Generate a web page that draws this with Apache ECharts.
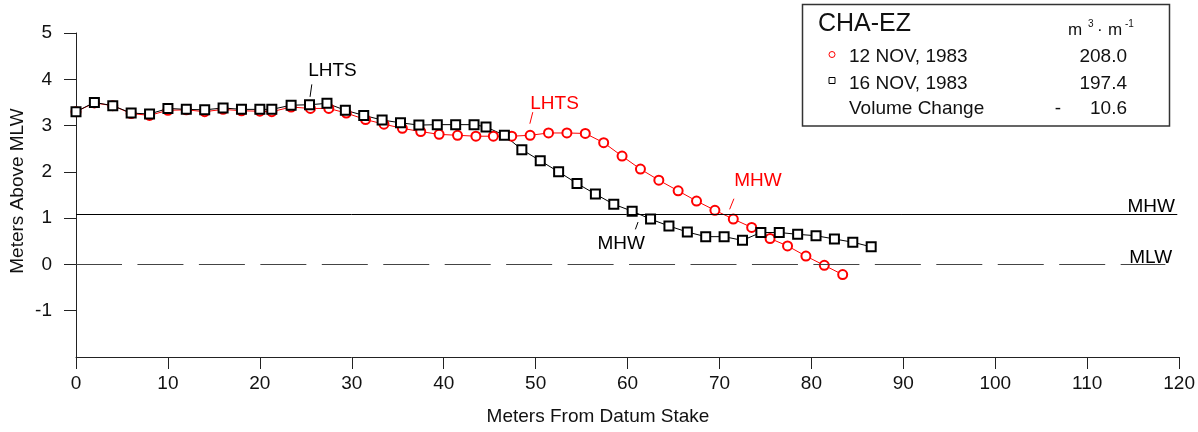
<!DOCTYPE html>
<html>
<head>
   <meta charset="utf-8">
   <title>CHA-EZ profile</title>
   <script src="https://cdn.jsdelivr.net/npm/echarts@6/dist/echarts.min.js"></script>
   <style>
      html, body {margin: 0; padding: 0; background: #fff;}
      #profileChart {width: 1198px; height: 432px;}
   </style>
</head>
<body>
<div id="profileChart"></div>
<script>
	// survey of 12 NOV 1983 (red circles)
	var distNov12 = [0, 2, 4, 6, 8, 10, 12, 14, 16, 18, 20, 21.3, 23.4, 25.5, 27.5, 29.4, 31.5, 33.5, 35.5, 37.5, 39.5, 41.5, 43.5, 45.4, 47.4,
		49.4, 51.4, 53.4, 55.4, 57.4, 59.4, 61.4, 63.4, 65.5, 67.5, 69.5, 71.5, 73.5, 75.5, 77.4, 79.4, 81.4, 83.4];
	var elevNov12 = [3.30, 3.49, 3.43, 3.26, 3.22, 3.33, 3.34, 3.30, 3.35, 3.32, 3.31, 3.30, 3.40, 3.37, 3.37, 3.27, 3.13, 3.03, 2.94, 2.87, 2.81, 2.79, 2.77, 2.77, 2.77,
		2.79, 2.84, 2.84, 2.83, 2.63, 2.34, 2.06, 1.82, 1.59, 1.37, 1.17, 0.98, 0.80, 0.56, 0.40, 0.18, -0.02, -0.22];
	// survey of 16 NOV 1983 (black squares)
	var distNov16 = [0, 2, 4, 6, 8, 10, 12, 14, 16, 18, 20, 21.3, 23.4, 25.4, 27.3, 29.3, 31.3, 33.3, 35.3, 37.3, 39.3, 41.3, 43.3, 44.6, 46.6,
		48.5, 50.5, 52.5, 54.5, 56.5, 58.5, 60.5, 62.5, 64.5, 66.5, 68.5, 70.5, 72.5, 74.5, 76.5, 78.5, 80.5, 82.5, 84.5, 86.5];
	var elevNov16 = [3.30, 3.50, 3.43, 3.27, 3.25, 3.37, 3.35, 3.34, 3.38, 3.35, 3.35, 3.35, 3.44, 3.45, 3.48, 3.33, 3.22, 3.12, 3.06, 3.01, 3.02, 3.02, 3.02, 2.97, 2.79,
		2.48, 2.24, 2.00, 1.75, 1.52, 1.30, 1.15, 0.98, 0.83, 0.70, 0.60, 0.60, 0.52, 0.69, 0.69, 0.65, 0.62, 0.55, 0.48, 0.38];
	var surveyNames = ['12 NOV, 1983', '16 NOV, 1983'];
	var surveyVolumes = ['208.0', '197.4'];
	var volumeChange = '10.6';
	var mhwLevel = 1.08;
	var mlwLevel = 0;

	// callouts in data units: label centre and leader tick
	var callouts = [
		{text: 'LHTS', color: '#000', at: [27.9, 4.18], leader: [[25.65, 3.89], [25.46, 3.62]]},
		{text: 'LHTS', color: '#f00', at: [52.06, 3.47], leader: [[49.69, 3.29], [49.37, 3.04]]},
		{text: 'MHW', color: '#f00', at: [74.18, 1.80], leader: [[71.57, 1.42], [71.1, 1.19]]},
		{text: 'MHW', color: '#000', at: [59.31, 0.45], leader: [[61.14, 0.916], [60.85, 0.758]]},
		{text: 'MHW', color: '#000', at: [116.96, 1.25]},
		{text: 'MLW', color: '#000', at: [116.9, 0.15]}
	];

	var font = 'Liberation Sans, Arial, sans-serif';
	function pairs(xs, ys) {
		return xs.map(function (x, i) { return [x, ys[i]]; });
	}

	var chart = echarts.init(document.getElementById('profileChart'));
	var option = {
		animation: false,
		textStyle: {fontFamily: font},
		grid: {left: 76, right: 17, top: 33, bottom: 75},
		xAxis: {
			type: 'value', min: 0, max: 120, interval: 10,
			axisLine: {onZero: false, lineStyle: {color: '#222', width: 1}},
			axisTick: {length: 12, lineStyle: {color: '#222'}},
			axisLabel: {fontSize: 19, color: '#111', margin: 17, fontFamily: font},
			splitLine: {show: false}
		},
		yAxis: {
			type: 'value', min: -2, max: 5, interval: 1,
			axisLine: {show: true, onZero: false, lineStyle: {color: '#222', width: 1}},
			axisTick: {show: true, length: 12, lineStyle: {color: '#222'}},
			axisLabel: {fontSize: 19, color: '#111', margin: 24, fontFamily: font, showMinLabel: false},
			splitLine: {show: false}
		},
		series: [
			{
				name: surveyNames[0], type: 'line', data: pairs(distNov12, elevNov12),
				symbol: 'emptyCircle', symbolSize: 9,
				itemStyle: {color: '#f00', borderWidth: 1},
				lineStyle: {color: '#f00', width: 1},
				markLine: {
					silent: true, symbol: ['none', 'none'], label: {show: false},
					data: [
						[{coord: [0, mhwLevel], lineStyle: {color: '#000', width: 1, type: 'solid'}}, {coord: [119.8, mhwLevel]}],
						[{coord: [0, mlwLevel], lineStyle: {color: '#444', width: 1, type: [46, 15.45]}}, {coord: [118.5, mlwLevel]}]
					]
				}
			},
			{
				name: surveyNames[1], type: 'line', data: pairs(distNov16, elevNov16),
				symbol: 'emptyRect', symbolSize: 9,
				itemStyle: {color: '#000', borderWidth: 1},
				lineStyle: {color: '#000', width: 1}
			}
		]
	};
	chart.setOption(option);

	var graphics = [
		{type: 'text', x: 18, y: 191, rotation: Math.PI / 2,
			style: {text: 'Meters Above MLW', font: '19px ' + font, fill: '#111', textAlign: 'center', textVerticalAlign: 'middle'}},
		{type: 'text', x: 598, y: 417,
			style: {text: 'Meters From Datum Stake', font: '19px ' + font, fill: '#111', textAlign: 'center', textVerticalAlign: 'middle'}},
		// key box
		{type: 'rect', shape: {x: 802.5, y: 4.5, width: 367, height: 121.5}, style: {fill: '#fff', stroke: '#333', lineWidth: 1.5}, z: 10},
		{type: 'text', x: 818, y: 24, z: 11, style: {text: 'CHA-EZ', font: '25px ' + font, fill: '#111', textVerticalAlign: 'middle'}},
		{type: 'text', x: 1068, y: 30, z: 11, style: {text: 'm', font: '17px ' + font, fill: '#111', textVerticalAlign: 'middle'}},
		{type: 'text', x: 1088, y: 24, z: 11, style: {text: '3', font: '10px ' + font, fill: '#111', textVerticalAlign: 'middle'}},
		{type: 'text', x: 1097, y: 30, z: 11, style: {text: '·', font: '17px ' + font, fill: '#111', textVerticalAlign: 'middle'}},
		{type: 'text', x: 1108, y: 30, z: 11, style: {text: 'm', font: '17px ' + font, fill: '#111', textVerticalAlign: 'middle'}},
		{type: 'text', x: 1125, y: 24, z: 11, style: {text: '-1', font: '10px ' + font, fill: '#111', textVerticalAlign: 'middle'}},
		{type: 'circle', shape: {cx: 832, cy: 54.5, r: 3}, z: 11, style: {fill: '#fff', stroke: '#f00', lineWidth: 1}},
		{type: 'rect', shape: {x: 829, y: 77.5, width: 6, height: 6}, z: 11, style: {fill: '#fff', stroke: '#000', lineWidth: 1}},
		{type: 'text', x: 849, y: 56.7, z: 11, style: {text: surveyNames[0], font: '19px ' + font, fill: '#111', textVerticalAlign: 'middle'}},
		{type: 'text', x: 849, y: 83.5, z: 11, style: {text: surveyNames[1], font: '19px ' + font, fill: '#111', textVerticalAlign: 'middle'}},
		{type: 'text', x: 849, y: 108.3, z: 11, style: {text: 'Volume Change', font: '19px ' + font, fill: '#111', textVerticalAlign: 'middle'}},
		{type: 'text', x: 1127, y: 56.7, z: 11, style: {text: surveyVolumes[0], font: '19px ' + font, fill: '#111', textAlign: 'right', textVerticalAlign: 'middle'}},
		{type: 'text', x: 1127, y: 83.5, z: 11, style: {text: surveyVolumes[1], font: '19px ' + font, fill: '#111', textAlign: 'right', textVerticalAlign: 'middle'}},
		{type: 'text', x: 1058, y: 108.3, z: 11, style: {text: '-', font: '19px ' + font, fill: '#111', textAlign: 'center', textVerticalAlign: 'middle'}},
		{type: 'text', x: 1127, y: 108.3, z: 11, style: {text: volumeChange, font: '19px ' + font, fill: '#111', textAlign: 'right', textVerticalAlign: 'middle'}}
	];
	callouts.forEach(function (c) {
		var p = chart.convertToPixel({gridIndex: 0}, c.at);
		graphics.push({type: 'text', x: p[0], y: p[1], z: 5,
			style: {text: c.text, font: '19px ' + font, fill: c.color, textAlign: 'center', textVerticalAlign: 'middle'}});
		if (c.leader) {
			var a = chart.convertToPixel({gridIndex: 0}, c.leader[0]);
			var b = chart.convertToPixel({gridIndex: 0}, c.leader[1]);
			graphics.push({type: 'line', z: 5, shape: {x1: a[0], y1: a[1], x2: b[0], y2: b[1]}, style: {stroke: c.color, lineWidth: 1}});
		}
	});
	chart.setOption({graphic: graphics});
</script>
</body>
</html>
